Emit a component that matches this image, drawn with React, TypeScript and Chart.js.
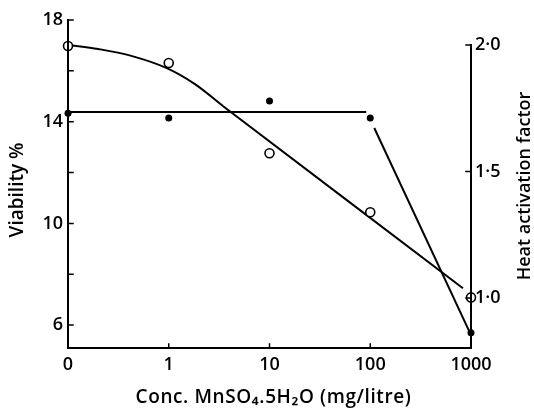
import React, { useEffect, useRef } from "react";
import { Chart, registerables } from "chart.js";

Chart.register(...registerables);

const xTickLabels = ["0", "1", "10", "100", "1000"];
const xPositions = [0, 1, 2, 3, 4];

const viabilityPoints = [16.98, 16.31, 12.76, 10.44, 7.09];
const heatPoints = [1.73, 1.711, 1.779, 1.711, 0.862];

const viabilityCurveX = [0, 0.3, 0.62, 0.98, 1.26, 1.55, 3.92];
const viabilityCurveY = [17.02, 16.86, 16.6, 16.11, 15.48, 14.58, 7.45];

const heatFlatX = [0, 2.96];
const heatFlatY = [1.735, 1.735];
const heatDropX = [3.04, 3.99];
const heatDropY = [1.672, 0.862];

const leftTicks = [6, 10, 14, 18];
const leftMinorTicks = [8, 12, 16];
const rightTicks = [1.0, 1.5, 2.0];

const FONT = "'Open Sans', 'DejaVu Sans', sans-serif";

const toXY = (xs: number[], ys: number[]) => xs.map((x, i) => ({ x, y: ys[i] }));

const axesPlugin = {
  id: "customAxes",
  afterDatasetsDraw(chart: any) {
    const { ctx, chartArea, scales } = chart;
    const { left, right, top, bottom } = chartArea;
    const yL = scales.y;
    const yR = scales.y1;
    const x = scales.x;
    ctx.save();
    ctx.strokeStyle = "#000";
    ctx.lineWidth = 2;
    ctx.lineCap = "square";
    ctx.beginPath();
    ctx.moveTo(left, top);
    ctx.lineTo(left, bottom);
    ctx.lineTo(right, bottom);
    ctx.moveTo(right, bottom);
    ctx.lineTo(right, yR.getPixelForValue(2.0));
    ctx.stroke();
    ctx.lineWidth = 1.5;
    ctx.beginPath();
    [...leftTicks, ...leftMinorTicks].forEach((v) => {
      const py = yL.getPixelForValue(v);
      ctx.moveTo(left, py);
      ctx.lineTo(left + 5, py);
    });
    [1, 2, 3].forEach((v) => {
      const px = x.getPixelForValue(v);
      ctx.moveTo(px, bottom);
      ctx.lineTo(px, bottom - 4);
    });
    rightTicks.forEach((v) => {
      const py = yR.getPixelForValue(v);
      ctx.moveTo(right, py);
      ctx.lineTo(right - 5, py);
    });
    ctx.stroke();

    ctx.fillStyle = "#000";
    ctx.textAlign = "center";
    ctx.textBaseline = "middle";
    const midY = (top + bottom) / 2;
    ctx.font = `600 19px ${FONT}`;
    ctx.save();
    ctx.translate(18, midY + 6);
    ctx.rotate(-Math.PI / 2);
    ctx.fillText("Viability %", 0, 0);
    ctx.restore();
    ctx.font = `600 18px ${FONT}`;
    ctx.save();
    ctx.translate(525, midY + 2);
    ctx.rotate(-Math.PI / 2);
    ctx.fillText("Heat activation factor", 0, 0);
    ctx.restore();
    ctx.font = `600 19px ${FONT}`;
    try {
      (ctx as any).letterSpacing = "0.6px";
    } catch (e) {}
    ctx.fillText("Conc. MnSO\u2084.5H\u2082O (mg/litre)", (left + right) / 2 + 4, 398);
    ctx.restore();
  },
};

export default function App() {
  const canvasRef = useRef<HTMLCanvasElement | null>(null);

  useEffect(() => {
    document.body.style.margin = "0";
    const canvas = canvasRef.current;
    if (!canvas) return;
    const chart = new Chart(canvas, {
      type: "scatter",
      data: {
        datasets: [
          {
            label: "Viability fit",
            data: toXY(viabilityCurveX, viabilityCurveY),
            showLine: true,
            borderColor: "#000",
            borderWidth: 2,
            pointRadius: 0,
            tension: 0.35,
            yAxisID: "y",
            clip: false,
            order: 5,
          },
          {
            label: "Heat fit flat",
            data: toXY(heatFlatX, heatFlatY),
            showLine: true,
            borderColor: "#000",
            borderWidth: 2,
            pointRadius: 0,
            yAxisID: "y1",
            clip: false,
            order: 5,
          },
          {
            label: "Heat fit drop",
            data: toXY(heatDropX, heatDropY),
            showLine: true,
            borderColor: "#000",
            borderWidth: 2,
            pointRadius: 0,
            yAxisID: "y1",
            clip: false,
            order: 5,
          },
          {
            label: "Viability",
            data: toXY(xPositions, viabilityPoints),
            showLine: false,
            pointStyle: "circle",
            pointRadius: 4.5,
            pointBorderWidth: 1.6,
            pointBorderColor: "#000",
            pointBackgroundColor: "#fff",
            yAxisID: "y",
            clip: false,
            order: 1,
          },
          {
            label: "Heat activation",
            data: toXY(xPositions, heatPoints),
            showLine: false,
            pointStyle: "circle",
            pointRadius: 3.5,
            pointBorderWidth: 0,
            pointBackgroundColor: "#000",
            yAxisID: "y1",
            clip: false,
            order: 1,
          },
        ],
      },
      options: {
        animation: false,
        responsive: false,
        devicePixelRatio: 1,
        layout: { padding: { top: 20, left: 0, right: 0, bottom: 0 } },
        plugins: {
          legend: { display: false },
          tooltip: { enabled: false },
        },
        scales: {
          x: {
            type: "linear",
            min: 0,
            max: 4,
            afterFit: (s: any) => {
              s.height = 61;
            },
            afterBuildTicks: (s: any) => {
              s.ticks = xPositions.map((v) => ({ value: v }));
            },
            ticks: {
              callback: (v: any) => xTickLabels[Math.round(Number(v))] ?? "",
              color: "#000",
              padding: 6,
              font: { family: FONT, size: 18, weight: "600" },
              maxRotation: 0,
            },
            grid: { display: false, drawTicks: false },
            border: { display: false },
          },
          y: {
            position: "left",
            min: 5.1,
            max: 18,
            afterFit: (s: any) => {
              s.width = 68;
            },
            afterBuildTicks: (s: any) => {
              s.ticks = leftTicks.map((v) => ({ value: v }));
            },
            ticks: {
              callback: (v: any) => String(v),
              color: "#000",
              padding: 5,
              font: { family: FONT, size: 18, weight: "600" },
            },
            grid: { display: false, drawTicks: false },
            border: { display: false },
          },
          y1: {
            position: "right",
            min: 0.802,
            max: 2.099,
            afterFit: (s: any) => {
              s.width = 63;
            },
            afterBuildTicks: (s: any) => {
              s.ticks = rightTicks.map((v) => ({ value: v }));
            },
            ticks: {
              callback: (v: any) => Number(v).toFixed(1).replace(".", "\u00b7"),
              color: "#000",
              padding: 4,
              font: { family: FONT, size: 18, weight: "600" },
            },
            grid: { display: false, drawTicks: false },
            border: { display: false },
          },
        },
      },
      plugins: [axesPlugin],
    });
    return () => chart.destroy();
  }, []);

  return (
    <div style={{ width: 534, height: 409, background: "#fff" }}>
      <canvas ref={canvasRef} width={534} height={409} />
    </div>
  );
}
